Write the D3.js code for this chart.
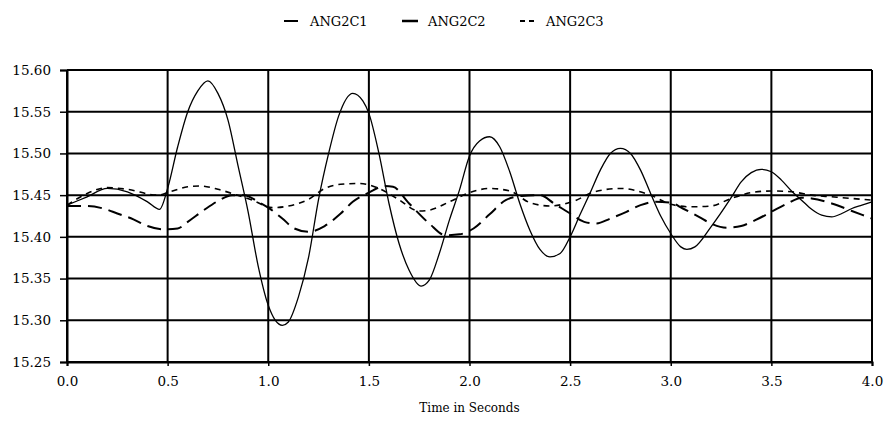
<!DOCTYPE html>
<html>
<head>
<meta charset="utf-8">
<script src="https://cdn.jsdelivr.net/npm/d3@7"></script>
<style>
  html, body { margin: 0; padding: 0; background: #fff; }
  svg { display: block; }
  text { font-family: "DejaVu Serif", "Liberation Serif", serif; fill: #000; }
</style>
</head>
<body>
<svg id="chart" width="891" height="425"></svg>
<script>
// Time samples (seconds) and angle values for each series
const seriesNames = ["ANG2C1", "ANG2C2", "ANG2C3"];

const c1Time = [0, 0.1, 0.2, 0.3, 0.4, 0.46, 0.5, 0.55, 0.6, 0.65, 0.7, 0.75, 0.8, 0.85, 0.9, 0.95, 1.0, 1.07, 1.1, 1.15, 1.2, 1.25, 1.3, 1.35, 1.42, 1.47, 1.5, 1.55, 1.6, 1.65, 1.7, 1.76, 1.8, 1.85, 1.9, 1.95, 2.0, 2.05, 2.1, 2.15, 2.2, 2.25, 2.3, 2.35, 2.4, 2.45, 2.5, 2.55, 2.6, 2.65, 2.7, 2.75, 2.8, 2.85, 2.9, 2.95, 3.0, 3.05, 3.08, 3.12, 3.2, 3.3, 3.35, 3.4, 3.45, 3.5, 3.55, 3.6, 3.65, 3.7, 3.75, 3.8, 3.85, 3.9, 3.95, 4.0];
const c1Value = [15.438, 15.448, 15.458, 15.454, 15.442, 15.433, 15.458, 15.508, 15.55, 15.575, 15.587, 15.572, 15.54, 15.485, 15.43, 15.365, 15.318, 15.294, 15.298, 15.328, 15.375, 15.445, 15.50, 15.545, 15.572, 15.563, 15.548, 15.50, 15.44, 15.392, 15.36, 15.341, 15.348, 15.38, 15.42, 15.456, 15.497, 15.515, 15.52, 15.508, 15.478, 15.44, 15.408, 15.385, 15.376, 15.38, 15.40, 15.427, 15.453, 15.48, 15.5, 15.506, 15.5, 15.48, 15.452, 15.425, 15.404, 15.388, 15.385, 15.388, 15.412, 15.447, 15.466, 15.477, 15.481, 15.478, 15.468, 15.455, 15.444, 15.433, 15.426, 15.424, 15.428, 15.434, 15.438, 15.442];

const c2Time = [0, 0.1, 0.18, 0.25, 0.33, 0.4, 0.48, 0.55, 0.6, 0.68, 0.75, 0.82, 0.88, 0.95, 1.0, 1.07, 1.13, 1.2, 1.28, 1.36, 1.42, 1.5, 1.58, 1.62, 1.7, 1.8, 1.88, 1.95, 2.02, 2.1, 2.18, 2.26, 2.35, 2.42, 2.5, 2.57, 2.63, 2.7, 2.78, 2.85, 2.92, 3.0, 3.06, 3.14, 3.2, 3.28, 3.35, 3.42, 3.5, 3.58, 3.65, 3.7, 3.8, 3.9, 4.0];
const c2Value = [15.437, 15.437, 15.434, 15.428, 15.421, 15.413, 15.409, 15.41, 15.418, 15.432, 15.443, 15.45, 15.45, 15.442, 15.435, 15.422, 15.41, 15.406, 15.413, 15.428, 15.442, 15.453, 15.461, 15.46, 15.44, 15.416, 15.402, 15.403, 15.41, 15.427, 15.444, 15.449, 15.45, 15.44, 15.428, 15.418, 15.416, 15.422, 15.43, 15.438, 15.442, 15.441, 15.434, 15.424, 15.416, 15.411, 15.413, 15.42, 15.43, 15.44, 15.447, 15.446, 15.44, 15.431, 15.422];

const c3Time = [0, 0.1, 0.2, 0.3, 0.45, 0.51, 0.6, 0.66, 0.75, 0.82, 0.92, 1.02, 1.1, 1.2, 1.28, 1.36, 1.45, 1.55, 1.64, 1.75, 1.8, 1.9, 2.0, 2.1, 2.2, 2.3, 2.4, 2.52, 2.62, 2.75, 2.9, 3.0, 3.1, 3.2, 3.3, 3.4, 3.5, 3.6, 3.7, 3.8, 3.9, 4.0];
const c3Value = [15.438, 15.452, 15.459, 15.457, 15.45, 15.454, 15.46, 15.461, 15.457, 15.452, 15.444, 15.435, 15.437, 15.445, 15.458, 15.463, 15.464, 15.458, 15.446, 15.431, 15.432, 15.442, 15.453, 15.458, 15.455, 15.441, 15.437, 15.443, 15.454, 15.458, 15.45, 15.439, 15.436, 15.437, 15.446, 15.453, 15.455, 15.454, 15.45, 15.448, 15.446, 15.444];

const xTicks = [0, 0.5, 1.0, 1.5, 2.0, 2.5, 3.0, 3.5, 4.0];
const yTicks = [15.25, 15.30, 15.35, 15.40, 15.45, 15.50, 15.55, 15.60];

const series = [
  { name: seriesNames[0], t: c1Time, v: c1Value, width: 1.3, dash: null },
  { name: seriesNames[1], t: c2Time, v: c2Value, width: 2, dash: "14,7" },
  { name: seriesNames[2], t: c3Time, v: c3Value, width: 1.6, dash: "6,5" }
];

const W = 891, H = 425;
const margin = { top: 70, right: 19, bottom: 63, left: 67 };
const iw = W - margin.left - margin.right;
const ih = H - margin.top - margin.bottom;

const svg = d3.select("#chart");
const g = svg.append("g").attr("transform", `translate(${margin.left},${margin.top})`);

const x = d3.scaleLinear().domain([0, 4]).range([0, iw]);
const y = d3.scaleLinear().domain([15.25, 15.60]).range([ih, 0]);

// Grid
g.append("g").selectAll("line.h").data(yTicks).join("line")
  .attr("x1", 0).attr("x2", iw)
  .attr("y1", d => y(d)).attr("y2", d => y(d))
  .attr("stroke", "#000").attr("stroke-width", 2);
g.append("g").selectAll("line.v").data(xTicks).join("line")
  .attr("y1", 0).attr("y2", ih)
  .attr("x1", d => x(d)).attr("x2", d => x(d))
  .attr("stroke", "#000").attr("stroke-width", 2);

// Axes
const yAxis = d3.axisLeft(y).tickValues(yTicks).tickFormat(d3.format(".2f")).tickSize(7).tickPadding(9);
const xAxis = d3.axisBottom(x).tickValues(xTicks).tickFormat(d3.format(".1f")).tickSize(4).tickPadding(10);

const ya = g.append("g").call(yAxis);
const xa = g.append("g").attr("transform", `translate(0,${ih})`).call(xAxis);
[ya, xa].forEach(a => {
  a.select(".domain").attr("stroke", "#000").attr("stroke-width", 2);
  a.selectAll(".tick line").attr("stroke", "#000").attr("stroke-width", 1.5);
  a.selectAll(".tick text").style("font-family", "DejaVu Serif, serif").style("font-size", "13.5px").attr("fill", "#000");
});

// Axis title
g.append("text")
  .attr("x", iw / 2).attr("y", ih + 50)
  .attr("text-anchor", "middle")
  .style("font-size", "12px")
  .text("Time in Seconds");

// Series lines
const line = d3.line()
  .x(d => x(d[0]))
  .y(d => y(d[1]))
  .curve(d3.curveMonotoneX);

series.forEach(s => {
  const pts = s.t.map((t, i) => [t, s.v[i]]);
  g.append("path")
    .datum(pts)
    .attr("fill", "none")
    .attr("stroke", "#000")
    .attr("stroke-width", s.width)
    .attr("stroke-dasharray", s.dash)
    .attr("d", line);
});

// Legend
const legendItems = [
  { name: seriesNames[0], x: 284, w: 14, width: 2, dash: null },
  { name: seriesNames[1], x: 402, w: 16, width: 2.5, dash: null },
  { name: seriesNames[2], x: 520, w: 17, width: 2, dash: "5,4" }
];
const lg = svg.append("g");
legendItems.forEach(it => {
  lg.append("line")
    .attr("x1", it.x).attr("x2", it.x + it.w)
    .attr("y1", 21).attr("y2", 21)
    .attr("stroke", "#000").attr("stroke-width", it.width)
    .attr("stroke-dasharray", it.dash);
  lg.append("text")
    .attr("x", it.x + 26).attr("y", 26)
    .style("font-size", "13px")
    .text(it.name);
});
</script>
</body>
</html>
